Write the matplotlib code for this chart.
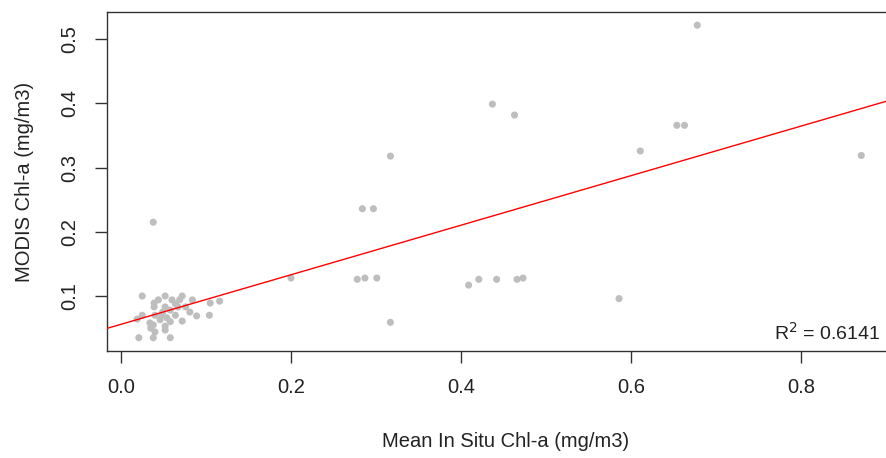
import matplotlib
matplotlib.use("Agg")
import matplotlib.pyplot as plt
import numpy as np

plt.rcParams['font.family'] = ['Liberation Sans', 'DejaVu Sans']

# in situ (x) vs MODIS (y) chl-a
insitu = [0.025, 0.039, 0.052, 0.044, 0.060, 0.069, 0.072, 0.084, 0.105, 0.116, 0.064,
          0.039, 0.052, 0.058, 0.067, 0.076, 0.081, 0.049,
          0.025, 0.019, 0.040, 0.048, 0.054, 0.064, 0.072, 0.089, 0.104, 0.058, 0.046,
          0.038, 0.035, 0.052, 0.052, 0.040, 0.034,
          0.021, 0.038, 0.058,
          0.038, 0.200, 0.278, 0.284, 0.287, 0.297, 0.301, 0.317, 0.317,
          0.409, 0.421, 0.437, 0.442, 0.463, 0.466, 0.473,
          0.586, 0.611, 0.654, 0.663, 0.678, 0.871]
modis = [0.100, 0.089, 0.100, 0.094, 0.094, 0.094, 0.100, 0.094, 0.089, 0.092, 0.088,
         0.083, 0.083, 0.078, 0.083, 0.083, 0.075, 0.075,
         0.070, 0.064, 0.070, 0.070, 0.066, 0.070, 0.061, 0.069, 0.070, 0.060, 0.063,
         0.055, 0.050, 0.053, 0.047, 0.044, 0.058,
         0.035, 0.035, 0.035,
         0.215, 0.128, 0.126, 0.236, 0.128, 0.236, 0.128, 0.318, 0.059,
         0.117, 0.126, 0.399, 0.126, 0.382, 0.126, 0.128,
         0.096, 0.326, 0.366, 0.366, 0.522, 0.319]

# linear fit shown in the chart
fit_intercept = 0.0559
fit_slope = 0.386
r2 = 0.6141

fig = plt.figure(figsize=(8.86, 4.58), dpi=100)
ax = fig.add_axes([0.1211, 0.2336, 0.898, 0.740])

ax.scatter(insitu, modis, s=26, color='#bebebe', edgecolors='none', zorder=2)

xs = np.array([-0.1, 1.0])
ax.plot(xs, fit_intercept + fit_slope * xs, color='red', lw=1, zorder=3)

ax.set_xlim(-0.0161, 0.92)
ax.set_ylim(0.0143, 0.5424)
ax.set_xticks([0.0, 0.2, 0.4, 0.6, 0.8])
ax.set_xticklabels(['0.0', '0.2', '0.4', '0.6', '0.8'])
ax.set_yticks([0.1, 0.2, 0.3, 0.4, 0.5])
ax.set_yticklabels(['0.1', '0.2', '0.3', '0.4', '0.5'], rotation=90, va='center')

for sp in ax.spines.values():
    sp.set_color('#333333')
    sp.set_linewidth(1.0)
ax.tick_params(direction='out', length=8.4, width=1.0, color='#333333',
               labelsize=14.5, labelcolor='#222222')
ax.tick_params(axis='x', pad=11)
ax.tick_params(axis='y', pad=12)

ax.set_xlabel('Mean In Situ Chl-a (mg/m3)', fontsize=14.5, color='#222222', labelpad=25)
ax.set_ylabel('MODIS Chl-a (mg/m3)', fontsize=14.5, color='#222222', labelpad=19)

ax.text(0.893, 0.031, f'R$^2$ = {r2:.4f}', ha='right', va='baseline',
        fontsize=14, color='#222222')

fig.savefig('out.png', dpi=100)
